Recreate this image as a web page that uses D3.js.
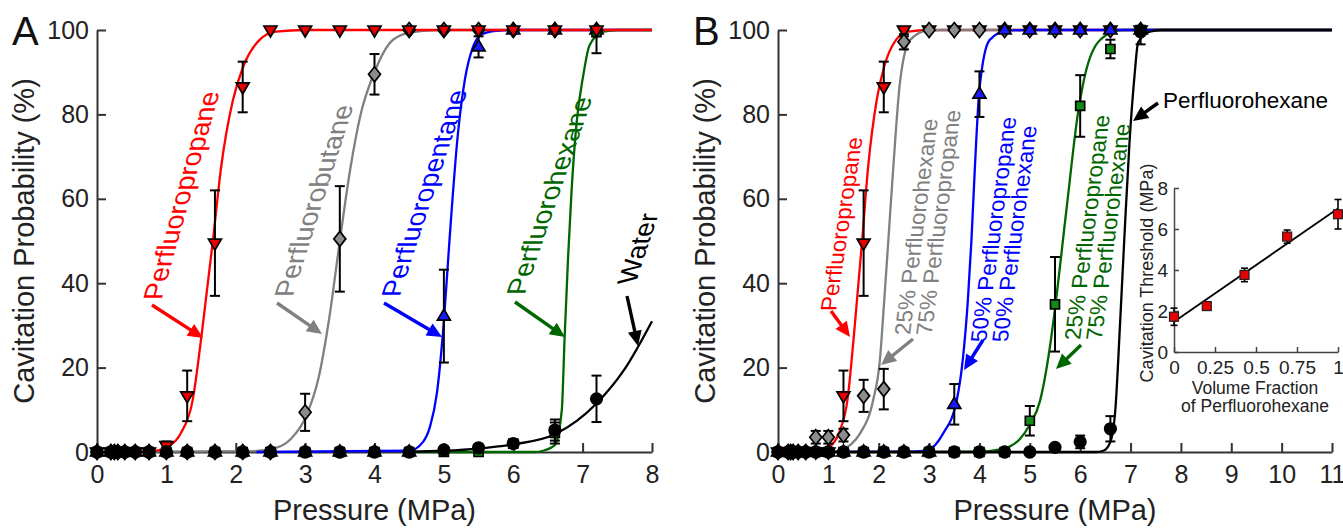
<!DOCTYPE html>
<html lang="en">
<head>
<meta charset="UTF-8">
<title>Cavitation probability vs pressure</title>
<script src="https://cdn.jsdelivr.net/npm/d3@7"></script>
<style>
  body { margin: 0; background: #fff; }
  svg text { font-family: "Liberation Sans", Arial, Helvetica, sans-serif; }
</style>
</head>
<body>
<div id="chart"></div>
<script>
// pressures (MPa) at which every sample was measured
const pressures = [0, 0.2, 0.25, 0.3, 0.4, 0.55, 0.75, 1.0, 1.3, 1.7, 2.1, 2.5, 3.0, 3.5, 4.0, 4.5, 5.0, 5.5, 6.0, 6.6, 7.2];

// panel A - single gases and water (probability %, and +/- error)
const propaneA    = [0, 0, 0, 0, 0, 0, 0, 1.5, 13.3, 49.5, 86.5, 100, 100, 100, 100, 100, 100, 100, 100, 100, 100];
const propaneAErr = [0, 0, 0, 0, 0, 0, 0, 1, 6, 12.5, 6, 0, 0, 0, 0, 0, 0, 0, 0, 0, 0];
const butaneA     = [0, 0, 0, 0, 0, 0, 0, 0, 0, 0, 0, 0, 9.4, 50.5, 89.5, 100, 100, 100, 100, 100, 100];
const butaneAErr  = [0, 0, 0, 0, 0, 0, 0, 0, 0, 0, 0, 0, 4.4, 12.5, 4.8, 0, 0, 0, 0, 0, 0];
const pentaneA    = [0, 0, 0, 0, 0, 0, 0, 0, 0, 0, 0, 0, 0, 0, 0, 0, 32.2, 96, 100, 100, 100];
const pentaneAErr = [0, 0, 0, 0, 0, 0, 0, 0, 0, 0, 0, 0, 0, 0, 0, 0, 11, 2.5, 0, 0, 0];
const hexaneA     = [0, 0, 0, 0, 0, 0, 0, 0, 0, 0, 0, 0, 0, 0, 0, 0, 0, 0, 2.0, 4.5, 99.5];
const hexaneAErr  = [0, 0, 0, 0, 0, 0, 0, 0, 0, 0, 0, 0, 0, 0, 0, 0, 0, 0, 0.8, 2.5, 5];
const waterA      = [0, 0, 0, 0, 0, 0, 0, 0, 0, 0, 0, 0, 0, 0, 0, 0, 0.5, 1.0, 2.0, 5.2, 12.6];
const waterAErr   = [0, 0, 0, 0, 0, 0, 0, 0, 0, 0, 0, 0, 0, 0, 0, 0, 0, 0, 0.8, 2.5, 5.5];

// fitted curves of panel A as [pressure, %]
const propaneCurveA = [[0, 0], [0.8, 0.2], [1.04, 1.4], [1.21, 4.5], [1.38, 12.4], [1.51, 28], [1.67, 50], [1.79, 67.6], [1.96, 83.4], [2.1, 91], [2.34, 97.6], [2.58, 99.6], [3, 100], [8, 100]];
const butaneCurveA  = [[0, 0], [2.2, 0.2], [2.6, 1.1], [2.8, 3.2], [3.0, 8], [3.2, 18], [3.35, 32], [3.5, 50], [3.65, 67], [3.8, 80], [4.0, 90], [4.2, 96.5], [4.4, 98.9], [4.7, 99.8], [5, 100], [8, 100]];
const pentaneCurveA = [[2.3, 0], [4.5, 0.3], [4.7, 2.4], [4.8, 6], [4.9, 14], [5.0, 31], [5.08, 50], [5.2, 75], [5.3, 88], [5.42, 96], [5.55, 99], [5.75, 99.8], [6, 100], [8, 100]];
const hexaneCurveA  = [[4.5, 0], [6.3, 0], [6.43, 0.3], [6.6, 1.7], [6.7, 10], [6.74, 27], [6.79, 46], [6.84, 61.7], [6.91, 77.5], [7.01, 89.3], [7.1, 96.4], [7.3, 99.6], [7.5, 100], [8, 100]];
const waterCurveA   = [[4.5, 0.1], [5.0, 0.3], [5.5, 0.8], [6.0, 1.8], [6.6, 4.2], [7.2, 11.5], [7.6, 19.5], [8.0, 31]];

// panel B - perfluoropropane / perfluorohexane mixtures
const propaneB    = [0, 0, 0, 0, 0, 0, 0, 0, 13.3, 49.5, 86.5, 100, 100, 100, 100, 100, 100, 100, 100, 100, 100];
const propaneBErr = [0, 0, 0, 0, 0, 0, 0, 0, 6, 12.5, 6, 1.5, 0, 0, 0, 0, 0, 0, 0, 0, 0];
const mix25B      = [0, 0, 0, 0, 0, 0, 3.5, 3.5, 4.0, 13.3, 14.9, 97.2, 100, 100, 100, 100, 100, 100, 100, 100, 100];
const mix25BErr   = [0, 0, 0, 0, 0, 0, 1.5, 1.5, 1.5, 3.8, 4.8, 1.8, 0, 0, 0, 0, 0, 0, 0, 0, 0];
const mix50B      = [0, 0, 0, 0, 0, 0, 0, 0, 0, 0, 0, 0, 0, 11.3, 84.8, 100, 100, 100, 100, 100, 100];
const mix50BErr   = [0, 0, 0, 0, 0, 0, 0, 0, 0, 0, 0, 0, 0, 4.8, 5.4, 0, 0, 0, 0, 0, 0];
const mix75B      = [0, 0, 0, 0, 0, 0, 0, 0, 0, 0, 0, 0, 0, 0, 0, 0, 7.4, 35, 82, 95.5, 100];
const mix75BErr   = [0, 0, 0, 0, 0, 0, 0, 0, 0, 0, 0, 0, 0, 0, 0, 0, 3.5, 11.2, 7.3, 2.2, 0];
const hexaneB     = [0, 0, 0, 0, 0, 0, 0, 0, 0, 0, 0, 0, 0, 0, 0, 0, 0, 1.1, 2.4, 5.5, 99.6];
const hexaneBErr  = [0, 0, 0, 0, 0, 0, 0, 0, 0, 0, 0, 0, 0, 0, 0, 0, 0, 0, 1.5, 3, 3];

const propaneCurveB = [[0, 0], [0.8, 0.2], [1.04, 1.4], [1.21, 4.5], [1.38, 12.4], [1.51, 28], [1.67, 50], [1.79, 67.6], [1.96, 83.4], [2.1, 91], [2.34, 97.6], [2.58, 99.6], [3, 100], [11, 100]];
const mix25Curve    = [[0, 0], [1.1, 0.1], [1.26, 0.5], [1.45, 1.8], [1.63, 4.4], [1.89, 12.3], [2.02, 21.4], [2.11, 36], [2.19, 50], [2.29, 67.6], [2.42, 87.4], [2.62, 97.6], [2.95, 99.8], [3.3, 100], [11, 100]];
const mix50Curve    = [[0, 0], [2.7, 0.1], [2.98, 0.5], [3.28, 4.4], [3.55, 12.3], [3.67, 22], [3.77, 36], [3.84, 50], [3.91, 67.6], [4.0, 86], [4.2, 97.6], [4.53, 99.8], [5, 100], [11, 100]];
const mix75Curve    = [[0, 0], [4.0, 0.1], [4.3, 0.4], [4.6, 1.3], [4.8, 3], [5.0, 6.5], [5.2, 12], [5.4, 25], [5.5, 34], [5.73, 57.7], [5.96, 80.6], [6.19, 93.3], [6.52, 98.8], [6.85, 100], [11, 100]];
const hexaneCurveB  = [[0, 0], [6.3, 0], [6.46, 0.3], [6.6, 2.4], [6.7, 10.3], [6.79, 30], [6.89, 53.8], [6.98, 73.5], [7.08, 89.3], [7.15, 97], [7.38, 99.6], [7.6, 100], [11, 100]];

// inset: threshold vs volume fraction of perfluorohexane
const fractions    = [0, 0.2, 0.43, 0.69, 1.0];
const thresholds   = [1.72, 2.24, 3.76, 5.63, 6.72];
const thresholdErr = [0.42, 0.15, 0.33, 0.32, 0.72];
const thresholdFit = [[0, 1.48], [1, 7.0]];

const W = 1343, H = 529;
const FONT_TICK = 25, FONT_TITLE = 29;

const svg = d3.select("#chart").append("svg")
  .attr("width", W)
  .attr("height", H);

const shapes = {
  triDown: "M-6.5,-4 L6.5,-4 L0,7 Z",
  triUp: "M-6.5,4 L6.5,4 L0,-7 Z",
  diamond: "M0,-7.5 L6,0 L0,7.5 L-6,0 Z",
  square: "M-4.5,-4.5 H4.5 V4.5 H-4.5 Z",
  circle: d3.symbol(d3.symbolCircle, 105)()
};

function styleAxis(sel, size) {
  sel.selectAll("path, line").attr("stroke", "#333").attr("stroke-width", 2);
  sel.selectAll("text").attr("font-size", size).attr("fill", "#222")
    .style("font-family", '"Liberation Sans", Arial, sans-serif');
}

function drawPanel(opt) {
  const x = d3.scaleLinear().domain([0, opt.xMax]).range(opt.xRange);
  const y = d3.scaleLinear().domain([0, 100]).range([452, 30]);
  const g = svg.append("g");

  g.append("g")
    .attr("transform", `translate(0,${y(0)})`)
    .call(d3.axisBottom(x).ticks(opt.xMax).tickSizeInner(-9).tickSizeOuter(0).tickPadding(13).tickFormat(d3.format("d")))
    .call(s => styleAxis(s, FONT_TICK));
  g.append("g")
    .attr("transform", `translate(${x(0)},0)`)
    .call(d3.axisLeft(y).tickValues([0, 20, 40, 60, 80, 100]).tickSizeInner(-9).tickSizeOuter(0).tickPadding(8))
    .call(s => styleAxis(s, FONT_TICK));

  g.append("text")
    .attr("x", (opt.xRange[0] + opt.xRange[1]) / 2)
    .attr("y", 520)
    .attr("text-anchor", "middle")
    .attr("font-size", FONT_TITLE)
    .attr("fill", "#222")
    .text("Pressure (MPa)");
  g.append("text")
    .attr("transform", `translate(${opt.xRange[0] - 63},241) rotate(-90)`)
    .attr("text-anchor", "middle")
    .attr("font-size", FONT_TITLE)
    .attr("fill", "#222")
    .text("Cavitation Probability (%)");
  g.append("text")
    .attr("x", opt.xRange[0] - 85)
    .attr("y", 45)
    .attr("font-size", 40)
    .attr("fill", "#111")
    .text(opt.letter);

  const line = d3.line()
    .x(d => x(d[0]))
    .y(d => y(d[1]))
    .curve(d3.curveMonotoneX);

  opt.curveOrder.forEach(s => {
    g.append("path")
      .attr("d", line(s.curve))
      .attr("fill", "none")
      .attr("stroke", s.color)
      .attr("stroke-width", 2.3);
  });

  opt.markerOrder.forEach(s => {
    const pts = pressures.map((p, i) => ({ p, v: s.values[i], e: s.err[i] }));
    const bars = g.append("g").attr("stroke", "#000").attr("stroke-width", 2);
    pts.filter(d => d.e > 0).forEach(d => {
      const lo = y(Math.max(0, d.v - d.e)), hi = y(Math.min(100, d.v + d.e));
      const cx = x(d.p);
      bars.append("line").attr("x1", cx).attr("x2", cx).attr("y1", lo).attr("y2", hi);
      bars.append("line").attr("x1", cx - 5).attr("x2", cx + 5).attr("y1", lo).attr("y2", lo);
      bars.append("line").attr("x1", cx - 5).attr("x2", cx + 5).attr("y1", hi).attr("y2", hi);
    });
    g.append("g").selectAll("path")
      .data(pts)
      .join("path")
      .attr("transform", d => `translate(${x(d.p)},${y(d.v)})`)
      .attr("d", shapes[s.shape])
      .attr("fill", s.fill)
      .attr("stroke", "#000")
      .attr("stroke-width", 1.7);
  });

  return { x, y, g };
}

function arrow(g, x1, y1, x2, y2, color) {
  const len = Math.hypot(x2 - x1, y2 - y1);
  const ux = (x2 - x1) / len, uy = (y2 - y1) / len;
  const hl = 15, hw = 7;
  const bx = x2 - ux * hl, by = y2 - uy * hl;
  g.append("line")
    .attr("x1", x1).attr("y1", y1).attr("x2", bx + ux * 2).attr("y2", by + uy * 2)
    .attr("stroke", color).attr("stroke-width", 3.4);
  g.append("path")
    .attr("d", `M${x2},${y2} L${bx - uy * hw},${by + ux * hw} L${bx + uy * hw},${by - ux * hw} Z`)
    .attr("fill", color);
}

// rotated, sheared label reading bottom-to-top; (x, y) is the bottom of the first line
function slantLabel(g, x, y, cot, lines, color, size) {
  const t = g.append("text")
    .attr("transform", `translate(${x},${y}) matrix(${cot},-1,1,0,0,0)`)
    .attr("font-size", size)
    .attr("fill", color);
  lines.forEach((s, i) => {
    t.append("tspan").attr("x", 0).attr("dy", i === 0 ? "0.35em" : "0.965em").text(s);
  });
}

// ---------- panel A ----------
const sProp = { curve: propaneCurveA, values: propaneA, err: propaneAErr, color: "#ff0000", fill: "#e60000", shape: "triDown" };
const sBut = { curve: butaneCurveA, values: butaneA, err: butaneAErr, color: "#808080", fill: "#8c8c8c", shape: "diamond" };
const sPent = { curve: pentaneCurveA, values: pentaneA, err: pentaneAErr, color: "#0000ff", fill: "#1a1aff", shape: "triUp" };
const sHex = { curve: hexaneCurveA, values: hexaneA, err: hexaneAErr, color: "#006600", fill: "#138a13", shape: "square" };
const sWat = { curve: waterCurveA, values: waterA, err: waterAErr, color: "#000000", fill: "#000000", shape: "circle" };

const A = drawPanel({
  letter: "A", xMax: 8, xRange: [97, 652],
  curveOrder: [sBut, sPent, sHex, sWat, sProp],
  markerOrder: [sBut, sPent, sHex, sProp, sWat]
});

slantLabel(A.g, 152, 300, 0.28, ["Perfluoropropane"], "#ff0000", 27);
slantLabel(A.g, 283, 297, 0.32, ["Perfluorobutane"], "#808080", 27);
slantLabel(A.g, 390, 297, 0.33, ["Perfluoropentane"], "#0000ff", 27);
slantLabel(A.g, 515, 295, 0.345, ["Perfluorohexane"], "#006600", 27);
slantLabel(A.g, 626, 284, 0.33, ["Water"], "#000000", 27);
arrow(A.g, 152, 305, 203, 338, "#ff0000");
arrow(A.g, 277, 303, 322, 334, "#808080");
arrow(A.g, 384, 303, 442, 337, "#0000ff");
arrow(A.g, 515, 302, 565, 337, "#006600");
arrow(A.g, 627, 296, 638, 346, "#000000");

// ---------- panel B ----------
const bProp = { curve: propaneCurveB, values: propaneB, err: propaneBErr, color: "#ff0000", fill: "#e60000", shape: "triDown" };
const b25 = { curve: mix25Curve, values: mix25B, err: mix25BErr, color: "#808080", fill: "#8c8c8c", shape: "diamond" };
const b50 = { curve: mix50Curve, values: mix50B, err: mix50BErr, color: "#0000ff", fill: "#1a1aff", shape: "triUp" };
const b75 = { curve: mix75Curve, values: mix75B, err: mix75BErr, color: "#006600", fill: "#138a13", shape: "square" };
const bHex = { curve: hexaneCurveB, values: hexaneB, err: hexaneBErr, color: "#000000", fill: "#000000", shape: "circle" };

const B = drawPanel({
  letter: "B", xMax: 11, xRange: [778, 1332],
  curveOrder: [bProp, b25, b75, b50, bHex],
  markerOrder: [bProp, b25, b50, b75, bHex]
});

slantLabel(B.g, 828, 311, 0.154, ["Perfluoropropane"], "#ff0000", 22.5);
slantLabel(B.g, 902, 335, 0.13, ["25% Perfluorohexane", "75% Perfluoropropane"], "#808080", 22.5);
slantLabel(B.g, 978, 342, 0.136, ["50% Perfluoropropane", "50% Perfluorohexane"], "#0000ff", 22.5);
slantLabel(B.g, 1072, 340, 0.133, ["25% Perfluoropropane", "75% Perfluorohexane"], "#006600", 22.5);
B.g.append("text")
  .attr("x", 1163).attr("y", 108)
  .attr("font-size", 22.5).attr("fill", "#000")
  .text("Perfluorohexane");
arrow(B.g, 831, 311, 850, 337, "#ff0000");
arrow(B.g, 913, 339, 881, 365, "#808080");
arrow(B.g, 983, 340, 964, 370, "#0000ff");
arrow(B.g, 1081, 345, 1056, 369, "#006600");
arrow(B.g, 1158, 103, 1133, 121, "#000000");

// ---------- inset ----------
const xi = d3.scaleLinear().domain([0, 1]).range([1174, 1338]);
const yi = d3.scaleLinear().domain([0, 8]).range([352, 188]);
const inset = svg.append("g");

function styleInset(sel) {
  sel.selectAll("path, line").attr("stroke", "#444").attr("stroke-width", 1.5);
  sel.selectAll("text").attr("font-size", 19).attr("fill", "#222")
    .style("font-family", '"Liberation Sans", Arial, sans-serif');
}
inset.append("g")
  .attr("transform", `translate(0,${yi(0)})`)
  .call(d3.axisBottom(xi).tickValues([0, 0.25, 0.5, 0.75, 1]).tickFormat(d => String(d)).tickSizeInner(-5).tickSizeOuter(0).tickPadding(9))
  .call(styleInset);
inset.append("g")
  .attr("transform", `translate(${xi(0)},0)`)
  .call(d3.axisLeft(yi).tickValues([0, 2, 4, 6, 8]).tickSizeInner(-5).tickSizeOuter(0).tickPadding(6))
  .call(styleInset);

inset.append("path")
  .attr("d", d3.line().x(d => xi(d[0])).y(d => yi(d[1]))(thresholdFit))
  .attr("stroke", "#000").attr("stroke-width", 1.8).attr("fill", "none");

const insetPts = fractions.map((f, i) => ({ f, v: thresholds[i], e: thresholdErr[i] }));
const ib = inset.append("g").attr("stroke", "#000").attr("stroke-width", 1.6);
insetPts.forEach(d => {
  const cx = xi(d.f), lo = yi(d.v - d.e), hi = yi(d.v + d.e);
  ib.append("line").attr("x1", cx).attr("x2", cx).attr("y1", lo).attr("y2", hi);
  ib.append("line").attr("x1", cx - 3.5).attr("x2", cx + 3.5).attr("y1", lo).attr("y2", lo);
  ib.append("line").attr("x1", cx - 3.5).attr("x2", cx + 3.5).attr("y1", hi).attr("y2", hi);
});
inset.append("g").selectAll("rect")
  .data(insetPts)
  .join("rect")
  .attr("x", d => xi(d.f) - 4.5)
  .attr("y", d => yi(d.v) - 4.5)
  .attr("width", 9)
  .attr("height", 9)
  .attr("fill", "#e60000")
  .attr("stroke", "#222")
  .attr("stroke-width", 1.2);

inset.append("text")
  .attr("transform", "translate(1153,273) rotate(-90)")
  .attr("text-anchor", "middle")
  .attr("font-size", 18)
  .attr("fill", "#222")
  .text("Cavitation Threshold (MPa)");
inset.append("text")
  .attr("x", 1255).attr("y", 394)
  .attr("text-anchor", "middle")
  .attr("font-size", 17.5)
  .attr("fill", "#222")
  .text("Volume Fraction");
inset.append("text")
  .attr("x", 1255).attr("y", 412)
  .attr("text-anchor", "middle")
  .attr("font-size", 17.5)
  .attr("fill", "#222")
  .text("of Perfluorohexane");
</script>
</body>
</html>
